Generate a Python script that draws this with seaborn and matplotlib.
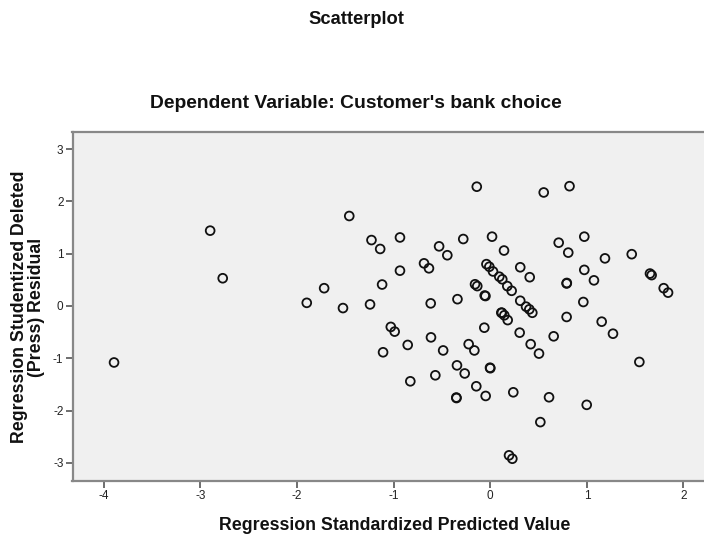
import matplotlib
matplotlib.use("Agg")
import matplotlib.pyplot as plt
import seaborn as sns
import pandas as pd

# Regression diagnostics: standardized predicted value vs. studentized deleted residual
predicted = [
    -3.895, -2.90, -2.77, -1.90, -1.72, -1.525, -1.46, -1.245, -1.23, -1.14,
    -1.12, -1.11, -1.03, -0.99, -0.935, -0.935, -0.855, -0.828, -0.686, -0.635,
    -0.617, -0.614, -0.569, -0.53, -0.488, -0.445, -0.345, -0.34, -0.352, -0.350,
    -0.28, -0.265, -0.224, -0.165, -0.158, -0.135, -0.14, -0.145, -0.062, -0.058,
    -0.05, -0.048, -0.04, -0.01, -0.003, 0.0, 0.018, 0.028, 0.093, 0.124,
    0.114, 0.12, 0.145, 0.18, 0.142, 0.176, 0.221, 0.194, 0.228, 0.238,
    0.304, 0.31, 0.31, 0.37, 0.404, 0.435, 0.408, 0.418, 0.504, 0.518,
    0.553, 0.608, 0.656, 0.708, 0.79, 0.792, 0.79, 0.807, 0.82, 0.963,
    0.973, 0.973, 0.998, 1.073, 1.153, 1.187, 1.27, 1.464, 1.543, 1.653,
    1.67, 1.795, 1.84,
]
residual = [
    -1.08, 1.44, 0.53, 0.06, 0.34, -0.04, 1.72, 0.03, 1.26, 1.09,
    0.41, -0.885, -0.40, -0.49, 1.31, 0.675, -0.745, -1.44, 0.815, 0.72,
    0.05, -0.60, -1.325, 1.14, -0.85, 0.97, -1.135, 0.13, -1.75, -1.76,
    1.28, -1.29, -0.73, -0.85, 0.415, 0.38, 2.28, -1.535, -0.415, 0.20,
    0.19, -1.72, 0.80, 0.75, -1.18, -1.19, 1.325, 0.66, 0.56, 0.51,
    -0.128, -0.13, -0.178, -0.27, 1.06, 0.38, 0.29, -2.855, -2.92, -1.65,
    -0.51, 0.74, 0.10, -0.013, -0.064, -0.13, 0.55, -0.73, -0.91, -2.22,
    2.17, -1.745, -0.58, 1.21, 0.43, 0.44, -0.21, 1.02, 2.29, 0.076,
    1.325, 0.69, -1.89, 0.49, -0.30, 0.91, -0.53, 0.99, -1.07, 0.62,
    0.59, 0.34, 0.255,
]
x_ticks = [-4, -3, -2, -1, 0, 1, 2]
y_ticks = [-3, -2, -1, 0, 1, 2, 3]

df = pd.DataFrame({"predicted": predicted, "residual": residual})

sns.set_theme(style="white")
plt.rcParams["font.family"] = ["Liberation Sans", "DejaVu Sans"]

W, H = 704, 538
fig = plt.figure(figsize=(W / 100, H / 100), dpi=100)
fig.patch.set_facecolor("white")

left, right, top, bottom = 72.5, 705, 132.3, 480.7
ax = fig.add_axes([left / W, 1 - bottom / H, (right - left) / W, (bottom - top) / H])
ax.set_facecolor("#f0f0f0")

sns.scatterplot(
    data=df, x="predicted", y="residual", ax=ax,
    marker="o", s=40, facecolor="none", edgecolor="#111111", linewidth=1.3,
    legend=False,
)

ax.set_xlim(-4.325, (right - 490.3) / 96.6)
ax.set_ylim(-3.34, 3.32)
ax.set_xticks(x_ticks)
ax.set_yticks(y_ticks)
ax.set_xticklabels([str(t) for t in x_ticks])
ax.set_yticklabels([str(t) for t in y_ticks])
ax.set_xlabel("")
ax.set_ylabel("")

for side in ["left", "bottom", "top"]:
    ax.spines[side].set_visible(True)
    ax.spines[side].set_color("#888888")
    ax.spines[side].set_linewidth(1.6)
ax.spines["right"].set_visible(False)

ax.tick_params(axis="both", which="major", direction="out", length=5, width=1.2,
               color="#555555", labelsize=8.5, labelcolor="#222222", pad=1.5,
               bottom=True, left=True)

fig.text(356 / W, 1 - 19 / H, "Scatterplot", ha="center", va="center",
         fontsize=13.2, fontweight="bold", color="#111111")
fig.text(355.5 / W, 1 - 108.5 / H, "Dependent Variable: Customer's bank choice",
         ha="center", va="baseline", fontsize=13.9, fontweight="bold", color="#111111")
fig.text(394.5 / W, 1 - 525 / H, "Regression Standardized Predicted Value",
         ha="center", va="center", fontsize=12.8, fontweight="bold", color="#111111")
fig.text(28 / W, 1 - 307 / H, "Regression Studentized Deleted\n(Press) Residual",
         ha="center", va="center", rotation=90, fontsize=12.8, fontweight="bold",
         color="#111111", linespacing=1.0, multialignment="center")

fig.savefig("out.png", dpi=100)
